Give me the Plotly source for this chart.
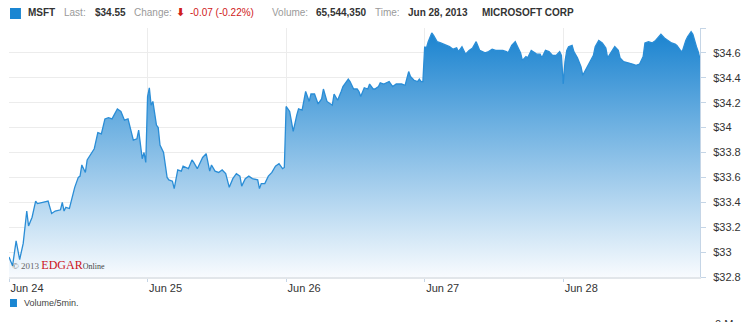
import plotly.graph_objects as go

# ---------------- data ----------------
days = ["2013-06-24", "2013-06-25", "2013-06-26", "2013-06-27", "2013-06-28"]
day_labels = ["Jun 24", "Jun 25", "Jun 26", "Jun 27", "Jun 28"]

jun24_times = ["09:30", "09:40", "09:50", "10:00", "10:10", "10:20", "10:25", "10:35", "10:45", "10:50",
               "11:05", "11:20", "11:30", "11:40", "11:55", "12:00", "12:05", "12:10", "12:20", "12:30",
               "12:35", "12:45", "12:50", "12:55", "13:05", "13:10", "13:20", "13:30", "13:40", "13:50",
               "14:00", "14:10", "14:20", "14:25", "14:35", "14:45", "14:55", "15:05", "15:20", "15:30",
               "15:35", "15:45", "15:50", "15:55"]
jun24_prices = [32.96, 32.89, 33.09, 32.94, 33.07, 33.33, 33.21, 33.28, 33.41, 33.39,
                33.40, 33.41, 33.31, 33.33, 33.34, 33.40, 33.33, 33.36, 33.35, 33.48,
                33.52, 33.60, 33.61, 33.70, 33.64, 33.74, 33.79, 33.83, 33.96, 33.95,
                34.07, 34.08, 34.07, 34.10, 34.15, 34.13, 34.06, 34.07, 33.90, 33.91,
                33.98, 33.75, 33.80, 33.72]

jun25_times = ["09:30", "09:35", "09:40", "09:45", "09:55", "10:00", "10:05", "10:15", "10:25", "10:30",
               "10:40", "10:45", "10:55", "11:05", "11:10", "11:25", "11:35", "11:40", "11:50", "11:55",
               "12:05", "12:15", "12:25", "12:30", "12:40", "12:50", "13:00", "13:10", "13:20", "13:30",
               "13:40", "13:50", "13:55", "14:05", "14:15", "14:25", "14:40", "14:45", "14:50", "15:00",
               "15:10", "15:20", "15:30", "15:40", "15:45", "15:50", "15:55"]
jun25_prices = [34.25, 34.32, 34.18, 34.21, 34.02, 34.00, 33.86, 33.80, 33.60, 33.58,
                33.57, 33.51, 33.66, 33.65, 33.69, 33.67, 33.74, 33.72, 33.67, 33.70,
                33.76, 33.79, 33.65, 33.70, 33.65, 33.64, 33.66, 33.63, 33.52, 33.59,
                33.63, 33.61, 33.53, 33.59, 33.61, 33.59, 33.58, 33.51, 33.55, 33.55,
                33.61, 33.64, 33.69, 33.71, 33.69, 33.67, 33.68]

jun26_times = ["09:30", "09:40", "09:50", "10:00", "10:05", "10:15", "10:25", "10:35", "10:40", "10:50",
               "11:00", "11:10", "11:15", "11:25", "11:30", "11:40", "11:45", "11:55", "12:05", "12:10",
               "12:25", "12:30", "12:40", "12:50", "12:55", "13:00", "13:10", "13:20", "13:25", "13:35",
               "13:40", "13:50", "13:55", "14:05", "14:20", "14:30", "14:40", "14:55", "15:05", "15:15",
               "15:20", "15:30", "15:40", "15:45", "15:50", "15:55"]
jun26_prices = [34.17, 34.13, 33.97, 34.10, 34.15, 34.14, 34.29, 34.21, 34.27, 34.27,
                34.19, 34.23, 34.31, 34.21, 34.20, 34.18, 34.27, 34.22, 34.29, 34.33,
                34.39, 34.37, 34.31, 34.31, 34.29, 34.25, 34.32, 34.31, 34.35, 34.31,
                34.31, 34.33, 34.36, 34.35, 34.37, 34.33, 34.35, 34.35, 34.34, 34.45,
                34.41, 34.38, 34.37, 34.39, 34.37, 34.37]

jun27_times = ["09:30", "09:35", "09:40", "09:50", "09:55", "10:05", "10:15", "10:25", "10:35", "10:40",
               "10:50", "11:00", "11:05", "11:15", "11:25", "11:35", "11:45", "11:55", "12:05", "12:15",
               "12:20", "12:30", "12:40", "12:50", "13:05", "13:10", "13:20", "13:25", "13:35", "13:45",
               "13:50", "14:00", "14:05", "14:15", "14:20", "14:30", "14:40", "14:45", "14:55", "15:00",
               "15:10", "15:20", "15:30", "15:40", "15:50", "15:55"]
jun27_prices = [34.65, 34.64, 34.69, 34.76, 34.74, 34.69, 34.68, 34.67, 34.66, 34.65,
                34.63, 34.64, 34.61, 34.65, 34.59, 34.62, 34.64, 34.69, 34.62, 34.61,
                34.60, 34.61, 34.63, 34.62, 34.62, 34.62, 34.61, 34.60, 34.66, 34.69,
                34.66, 34.60, 34.54, 34.57, 34.56, 34.62, 34.60, 34.59, 34.59, 34.56,
                34.62, 34.61, 34.58, 34.58, 34.61, 34.58]

jun28_times = ["09:30", "09:35", "09:40", "09:45", "09:55", "10:00", "10:10", "10:20", "10:25", "10:35",
               "10:45", "10:55", "11:00", "11:10", "11:20", "11:30", "11:35", "11:45", "11:55", "12:05",
               "12:10", "12:20", "12:35", "12:45", "12:55", "13:05", "13:15", "13:20", "13:30", "13:40",
               "13:50", "14:00", "14:05", "14:15", "14:25", "14:35", "14:45", "14:50", "15:00", "15:05",
               "15:15", "15:20", "15:30", "15:35", "15:45", "15:50", "15:55"]
jun28_prices = [34.35, 34.53, 34.62, 34.65, 34.66, 34.61, 34.56, 34.49, 34.42, 34.47,
                34.53, 34.58, 34.65, 34.70, 34.68, 34.64, 34.56, 34.60, 34.65, 34.62,
                34.56, 34.53, 34.52, 34.51, 34.50, 34.51, 34.57, 34.68, 34.69, 34.68,
                34.70, 34.73, 34.75, 34.72, 34.70, 34.68, 34.67, 34.66, 34.62, 34.61,
                34.70, 34.73, 34.77, 34.75, 34.65, 34.61, 34.55]

y_tick_vals = [32.8, 33.0, 33.2, 33.4, 33.6, 33.8, 34.0, 34.2, 34.4, 34.6, 34.8]
y_tick_text = ["$32.8", "$33", "$33.2", "$33.4", "$33.6", "$33.8", "$34", "$34.2", "$34.4", "$34.6", ""]

header_ticker = "MSFT"
header_last = "$34.55"
header_change = "-0.07 (-0.22%)"
header_volume = "65,544,350"
header_time = "Jun 28, 2013"
header_name = "MICROSOFT CORP"

# ---------------- build series ----------------
per_day = [(jun24_times, jun24_prices), (jun25_times, jun25_prices), (jun26_times, jun26_prices),
           (jun27_times, jun27_prices), (jun28_times, jun28_prices)]
x_vals, y_vals = [], []
for d, (ts, ps) in zip(days, per_day):
    for t, p in zip(ts, ps):
        x_vals.append(f"{d} {t}")
        y_vals.append(p)

# ---------------- layout geometry (pixels) ----------------
W, H = 750, 322
L, R, T, B = 9, 47, 28, 45
PW, PH = W - L - R, H - T - B


def px(xp):
    return (xp - L) / PW


def py(yp):
    return (H - B - yp) / PH


LINE = "#2a8dd6"
fig = go.Figure()
fig.add_trace(go.Scatter(
    x=x_vals, y=y_vals, mode="lines",
    line=dict(color=LINE, width=1.3),
    fill="tozeroy",
    fillgradient=dict(type="vertical", start=32.8, stop=34.8,
                      colorscale=[[0, "#f8fbfe"], [1, "#1681cf"]]),
    hoverinfo="skip", showlegend=False,
))

fig.update_layout(
    width=W, height=H,
    margin=dict(l=L, r=R, t=T, b=B, pad=0),
    paper_bgcolor="white", plot_bgcolor="white",
    font=dict(family="Liberation Sans", size=11, color="#333333"),
    showlegend=False,
)
fig.update_xaxes(
    range=[f"{days[0]} 09:30", f"{days[-1]} 15:55"],
    rangebreaks=[dict(pattern="hour", bounds=[16, 9.5])],
    tickvals=[f"{d} 09:30" for d in days], ticktext=day_labels,
    ticklabelposition="outside right",
    ticks="outside", ticklen=3, tickcolor="#c5d5e6",
    showgrid=True, gridcolor="#ececec", gridwidth=1,
    showline=True, linecolor="#e2e6ea", linewidth=2,
    tickfont=dict(size=11, color="#333333"),
    zeroline=False, fixedrange=True,
)
fig.update_yaxes(
    range=[32.8, 34.8], side="right",
    tickvals=y_tick_vals, ticktext=y_tick_text,
    ticks="outside", ticklen=5, tickcolor="#c5d5e6",
    ticklabelstandoff=5,
    showgrid=True, gridcolor="#ececec", gridwidth=1,
    showline=True, linecolor="#c5d5e6", linewidth=1,
    tickfont=dict(size=11, color="#333333"),
    zeroline=False, fixedrange=True,
)

GRAY = "#9a9a9a"
DARK = "#333333"
RED = "#d0201a"
HY = 13
header = [
    (26, header_ticker, DARK, "bold", "Liberation Sans", 10),
    (62, "Last:", GRAY, "normal", "Liberation Sans", 10),
    (93, header_last, DARK, "bold", "Liberation Sans", 10),
    (133, "Change:", GRAY, "normal", "Liberation Sans", 10),
    (175, "⬇", RED, "bold", "DejaVu Sans", 11),
    (189, header_change, RED, "normal", "Liberation Sans", 10),
    (271, "Volume:", GRAY, "normal", "Liberation Sans", 10),
    (315, header_volume, DARK, "bold", "Liberation Sans", 10),
    (375, "Time:", GRAY, "normal", "Liberation Sans", 10),
    (408, header_time, DARK, "bold", "Liberation Sans", 10),
    (482, header_name, DARK, "bold", "Liberation Sans", 10),
]
annotations = []
for xp, txt, col, wt, fam, sz in header:
    annotations.append(dict(
        x=px(xp), y=py(HY), xref="paper", yref="paper", xanchor="left", yanchor="middle",
        text=txt, showarrow=False,
        font=dict(family=fam, size=sz, color=col, weight=wt),
    ))

# watermark
annotations.append(dict(
    x=px(10), y=py(265), xref="paper", yref="paper", xanchor="left", yanchor="middle",
    text="© 2013 <span style='color:#cc1122;font-size:12px'>EDGAR</span>"
         "<span style='color:#444;font-size:8px'>Online</span>",
    showarrow=False, font=dict(family="Liberation Serif", size=9, color="#666666"),
))
# volume legend
annotations.append(dict(
    x=px(22), y=py(303), xref="paper", yref="paper", xanchor="left", yanchor="middle",
    text="Volume/5min.", showarrow=False,
    font=dict(family="Liberation Sans", size=9, color="#444444"),
))
annotations.append(dict(
    x=px(716), y=py(316), xref="paper", yref="paper", xanchor="left", yanchor="top",
    text="0 M", showarrow=False,
    font=dict(family="Liberation Sans", size=11, color="#333333"),
))
fig.update_layout(annotations=annotations)

shapes = [
    dict(type="rect", xref="paper", yref="paper", x0=px(10), x1=px(21), y0=py(19), y1=py(8),
         fillcolor="#1a86d2", line=dict(width=0)),
    dict(type="rect", xref="paper", yref="paper", x0=px(10), x1=px(17), y0=py(307), y1=py(299),
         fillcolor="#1a86d2", line=dict(width=0)),
]
fig.update_layout(shapes=shapes)

fig.write_html("out.html")
